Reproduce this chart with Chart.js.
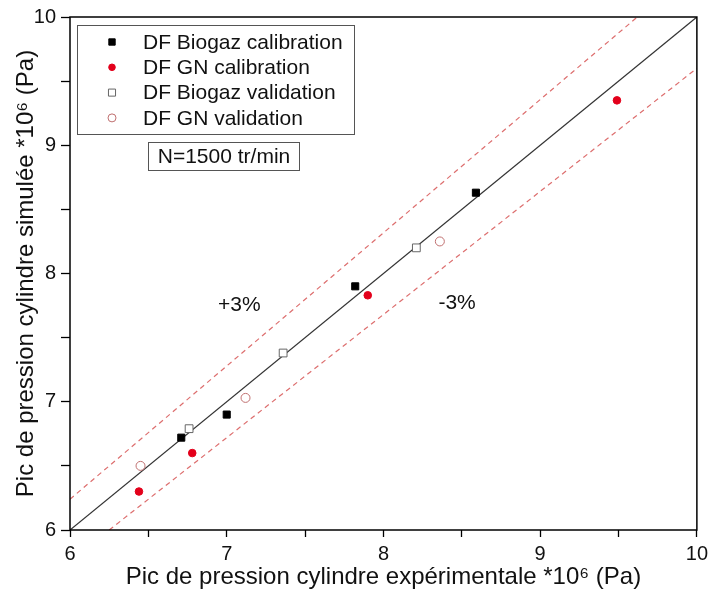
<!DOCTYPE html>
<html>
<head>
<meta charset="utf-8">
<script src="https://cdn.jsdelivr.net/npm/chart.js@4.4.0/dist/chart.umd.min.js"></script>
<style>
  html, body { margin: 0; padding: 0; background: #fff; }
</style>
</head>
<body>
<canvas id="chartCanvas" width="713" height="595"></canvas>
<script>
"use strict";

// peak cylinder pressure, experimental (x) vs simulated (y), *10^6 Pa
const biogazCalibX = [6.71, 7.00, 7.82, 8.59];
const biogazCalibY = [6.72, 6.90, 7.90, 8.63];
const gnCalibX = [6.44, 6.78, 7.90, 9.49];
const gnCalibY = [6.30, 6.60, 7.83, 9.35];
const biogazValidX = [6.76, 7.36, 8.21];
const biogazValidY = [6.79, 7.38, 8.20];
const gnValidX = [6.45, 7.12, 8.36];
const gnValidY = [6.50, 7.03, 8.25];

// reference lines, end points
const diagX = [6, 10];
const diagY = [6, 10];
const upperX = [6, 9.62];
const upperY = [6.24, 10];
const lowerX = [6.25, 10];
const lowerY = [6, 9.6];

const axisMin = 6;
const axisMax = 10;

const seriesLabels = ['DF Biogaz calibration', 'DF GN calibration', 'DF Biogaz validation', 'DF GN validation'];
const speedLabel = 'N=1500 tr/min';
const bandLabels = ['+3%', '-3%'];
const bandLabelX = [7.08, 8.47];
const bandLabelY = [7.75, 7.77];

const FONT = "'Liberation Sans', Arial, sans-serif";

function toPoints(xs, ys) {
    return xs.map((x, i) => ({ x: x, y: ys[i] }));
}

const frameAndNotes = {
    id: 'frameAndNotes',
    afterDraw(chart) {
        const ctx = chart.ctx;
        const area = chart.chartArea;
        const xs = chart.scales.x;
        const ys = chart.scales.y;
        ctx.save();

        // frame
        ctx.strokeStyle = '#000';
        ctx.lineWidth = 1.5;
        ctx.strokeRect(area.left, area.top, area.right - area.left, area.bottom - area.top);

        // legend box
        const lx = area.left + 7, ly = area.top + 8, lw = 277, lh = 109;
        ctx.lineWidth = 1;
        ctx.strokeStyle = '#555';
        ctx.fillStyle = '#fff';
        ctx.fillRect(lx, ly, lw, lh);
        ctx.strokeRect(lx + 0.5, ly + 0.5, lw, lh);
        ctx.font = '21px ' + FONT;
        ctx.textBaseline = 'middle';
        ctx.textAlign = 'left';
        let row = 0;
        chart.data.datasets.forEach(ds => {
            if (!ds.inLegend) return;
            const cy = ly + 17 + row * 25.3;
            ctx.fillStyle = ds.backgroundColor;
            ctx.strokeStyle = ds.borderColor;
            ctx.lineWidth = ds.borderWidth;
            Chart.helpers.drawPoint(ctx, {
                pointStyle: ds.pointStyle,
                radius: ds.pointRadius - 0.5,
                rotation: 0,
                borderWidth: ds.borderWidth
            }, lx + 35, cy);
            ctx.fillStyle = '#111';
            ctx.fillText(ds.label, lx + 66, cy + 1);
            row++;
        });

        // speed box
        ctx.strokeStyle = '#555';
        ctx.lineWidth = 1;
        ctx.strokeRect(area.left + 78.5, area.top + 125.5, 151, 28);
        ctx.fillStyle = '#111';
        ctx.textAlign = 'center';
        ctx.fillText(speedLabel, area.left + 78 + 76, area.top + 125 + 15);

        // band labels
        bandLabels.forEach((t, i) => {
            ctx.fillText(t, xs.getPixelForValue(bandLabelX[i]), ys.getPixelForValue(bandLabelY[i]));
        });
        ctx.restore();
    }
};

const ctx = document.getElementById('chartCanvas');

const data = {
    datasets: [
        {
            label: seriesLabels[0],
            inLegend: true,
            data: toPoints(biogazCalibX, biogazCalibY),
            pointStyle: 'rect',
            pointRadius: 5,
            backgroundColor: '#000',
            borderColor: '#000',
            borderWidth: 1
        },
        {
            label: seriesLabels[1],
            inLegend: true,
            data: toPoints(gnCalibX, gnCalibY),
            pointStyle: 'circle',
            pointRadius: 3.8,
            backgroundColor: '#e3001b',
            borderColor: '#e3001b',
            borderWidth: 1
        },
        {
            label: seriesLabels[2],
            inLegend: true,
            data: toPoints(biogazValidX, biogazValidY),
            pointStyle: 'rect',
            pointRadius: 5.5,
            backgroundColor: '#fff',
            borderColor: '#666',
            borderWidth: 1
        },
        {
            label: seriesLabels[3],
            inLegend: true,
            data: toPoints(gnValidX, gnValidY),
            pointStyle: 'circle',
            pointRadius: 4.5,
            backgroundColor: '#fff',
            borderColor: '#c07070',
            borderWidth: 1
        },
        {
            label: 'y=x',
            data: toPoints(diagX, diagY),
            showLine: true,
            pointRadius: 0,
            borderColor: '#333',
            borderWidth: 1.2
        },
        {
            label: 'upper',
            data: toPoints(upperX, upperY),
            showLine: true,
            pointRadius: 0,
            borderColor: '#dd6e6e',
            borderWidth: 1.2,
            borderDash: [5, 4]
        },
        {
            label: 'lower',
            data: toPoints(lowerX, lowerY),
            showLine: true,
            pointRadius: 0,
            borderColor: '#dd6e6e',
            borderWidth: 1.2,
            borderDash: [5, 4]
        }
    ]
};

function axisTicks() {
    return {
        stepSize: 0.5,
        color: '#111',
        padding: 5,
        font: { family: FONT, size: 20 },
        callback: v => (Number.isInteger(v) ? String(v) : '')
    };
}

const config = {
    type: 'scatter',
    data: data,
    options: {
        responsive: false,
        animation: false,
        layout: { padding: { left: 0, top: 17, right: 10, bottom: 0 } },
        plugins: {
            legend: { display: false },
            tooltip: { enabled: false }
        },
        scales: {
            x: {
                type: 'linear',
                min: axisMin,
                max: axisMax,
                afterFit: s => { s.height = 65; },
                border: { display: false },
                grid: { drawOnChartArea: false, drawTicks: true, tickLength: 7, color: '#000', tickWidth: 1.3 },
                ticks: axisTicks(),
                title: {
                    display: true,
                    text: 'Pic de pression cylindre expérimentale *10⁶ (Pa)',
                    color: '#111',
                    font: { family: FONT, size: 24 },
                    padding: { top: 0, bottom: 3 }
                }
            },
            y: {
                type: 'linear',
                min: axisMin,
                max: axisMax,
                afterFit: s => { s.width = 70; },
                border: { display: false },
                grid: { drawOnChartArea: false, drawTicks: true, tickLength: 9, color: '#000', tickWidth: 1.3 },
                ticks: axisTicks(),
                title: {
                    display: true,
                    text: 'Pic de pression cylindre simulée *10⁶ (Pa)',
                    color: '#111',
                    font: { family: FONT, size: 24 },
                    padding: { top: 12, bottom: 0 }
                }
            }
        }
    },
    plugins: [frameAndNotes]
};

new Chart(ctx, config);
</script>
</body>
</html>
